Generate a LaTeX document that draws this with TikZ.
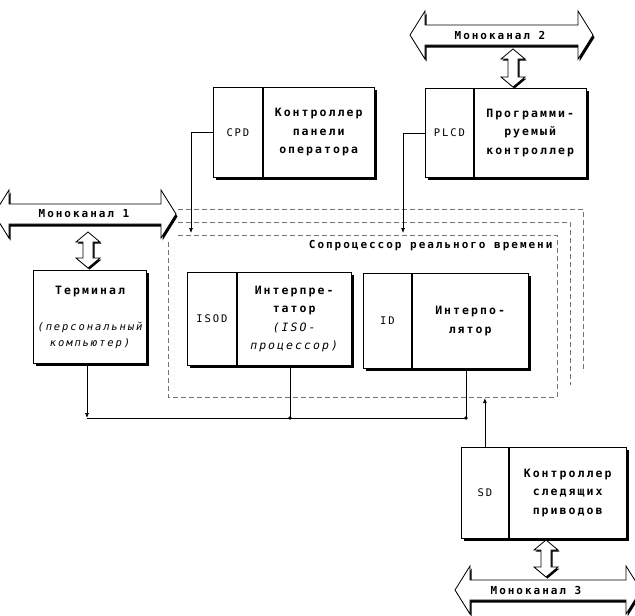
\documentclass[tikz,border=0pt]{standalone}
\usepackage{fontspec}
\setmainfont{DejaVu Sans Mono}[LetterSpace=18]
\usetikzlibrary{arrows.meta,backgrounds}
\newcommand\boxfont{\fontsize{11.5}{18.5}\selectfont\bfseries}
\newcommand\abbrfont{\fontsize{10.5}{14}\selectfont\mdseries}
\newcommand\italfont{\fontsize{10.5}{16}\selectfont\mdseries\itshape}
\newcommand\lblfont{\fontsize{11}{14}\selectfont\bfseries}
% horizontal wide double arrow: left tip x, right tip x, centre y
\newcommand\hbusarrow[3]{%
  \fill[black, shift={(1.5,2.5)}] (#1,#3) -- ++(15,-24) -- ++(0,14) -- (#2-15,#3-10) -- ++(0,-14) -- (#2,#3) -- ++(-15,24) -- ++(0,-14) -- (#1+15,#3+10) -- ++(0,14) -- cycle;
  \filldraw[busfill] (#1,#3) -- ++(15,-24) -- ++(0,14) -- (#2-15,#3-10) -- ++(0,-14) -- (#2,#3) -- ++(-15,24) -- ++(0,-14) -- (#1+15,#3+10) -- ++(0,14) -- cycle;}
% vertical small double arrow: x, top y, bottom y
\newcommand\vbusarrow[3]{%
  \fill[black, shift={(1.5,1.5)}] (#1,#2) -- ++(12,10) -- ++(-7,0) -- (#1+5,#3-10) -- ++(7,0) -- (#1,#3) -- ++(-12,-10) -- ++(7,0) -- (#1-5,#2+10) -- ++(-7,0) -- cycle;
  \filldraw[busfill] (#1,#2) -- ++(12,10) -- ++(-7,0) -- (#1+5,#3-10) -- ++(7,0) -- (#1,#3) -- ++(-12,-10) -- ++(7,0) -- (#1-5,#2+10) -- ++(-7,0) -- cycle;}
\tikzset{
  cell/.style={draw=black, line width=0.8pt, fill=white, inner sep=1pt, anchor=north west, align=center, font=\boxfont},
  abbr/.style={font=\abbrfont},
  conn/.style={draw=black, line width=0.7pt},
  tip/.style={-{Latex[length=5pt,width=4pt]}},
  frameline/.style={draw=black!55, line width=0.7pt, dash pattern=on 5pt off 3pt},
  shade/.style={fill=black},
  busfill/.style={fill=white, draw=black, line width=0.8pt},
  buslabel/.style={font=\lblfont},
}
\begin{document}
\begin{tikzpicture}[x=1pt, y=-1pt]
\useasboundingbox (0,0) rectangle (635,616);
\clip (0,0) rectangle (635,616);

% coprocessor frame (stacked dashed outlines)
\draw[frameline] (178,209) -- (583,209) -- (583,372);
\draw[frameline] (178,222) -- (570,222) -- (570,385);
\draw[frameline] (178,235) -- (557,235) -- (557,397) -- (168,397) -- (168,240);
\node[font=\lblfont, anchor=east] (coproc) at (556,246) {Сопроцессор реального времени};

% boxes
\node[cell, abbr, minimum width=49pt, minimum height=90pt] (cpdA) at (213,87) {CPD};
\node[cell, minimum width=111pt, minimum height=90pt] (cpdB) at (cpdA.north east) {Контроллер\\панели\\оператора};

\node[cell, abbr, minimum width=48pt, minimum height=89pt] (plcdA) at (425,88) {PLCD};
\node[cell, minimum width=112pt, minimum height=89pt] (plcdB) at (plcdA.north east) {Программи-\\руемый\\контроллер};

\node[cell, minimum width=113pt, minimum height=93pt] (term) at (33,270) {};
\node[font=\boxfont] (termT) at (90,292) {Терминал};
\node[font=\italfont, align=center] (termS) at (90,335) {(персональный\\компьютер)};

\node[cell, abbr, minimum width=49pt, minimum height=93pt] (isodA) at (187,272) {ISOD};
\node[cell, minimum width=114pt, minimum height=93pt] (isodB) at (isodA.north east) {Интерпре-\\татор\\{\mdseries\itshape (ISO-}\\{\mdseries\itshape процессор)}};

\node[cell, abbr, minimum width=48pt, minimum height=95pt] (idA) at (363,273) {ID};
\node[cell, minimum width=116pt, minimum height=95pt] (idB) at (idA.north east) {Интерпо-\\лятор};

\node[cell, abbr, minimum width=47pt, minimum height=91pt] (sdA) at (461,447) {SD};
\node[cell, minimum width=117pt, minimum height=91pt] (sdB) at (sdA.north east) {Контроллер\\следящих\\приводов};

% connectors
\coordinate (cpdEnd) at (191,233);
\coordinate (plcdEnd) at (403,233);
\draw[conn, tip] (cpdA.west) -| (cpdEnd);
\draw[conn, tip] (plcdA.west) -| (plcdEnd);

\coordinate (busL) at (87,418);
\coordinate (isoJ) at (290,418);
\coordinate (busR) at (466,418);
\coordinate (sdEnd) at (485,398);
\draw[conn, tip] (busL |- term.south) -- (busL);
\draw[conn] (busL) -- (busR);
\draw[conn] (isoJ |- isodB.south) -- (isoJ);
\draw[conn] (busR |- idB.south) -- (busR);
\fill (isoJ) circle (1.8);
\fill (busR) circle (1.8);
\draw[conn, tip] (sdA.north) -- (sdA.north |- sdEnd);

% monochannels
\hbusarrow{-6}{176}{214}
\node[buslabel] (mono1) at (84,214) {Моноканал 1};
\vbusarrow{88}{232}{268}

\hbusarrow{410}{593}{35}
\node[buslabel] (mono2) at (500,35) {Моноканал 2};
\vbusarrow{513}{49}{87}

\hbusarrow{455}{641}{590}
\node[buslabel] (mono3) at (536,590) {Моноканал 3};
\vbusarrow{546}{540}{577}

% background and box shadows
\begin{scope}[on background layer]
\fill[white] (0,0) rectangle (635,616);
\fill[shade] ([shift={(2.5,2.5)}]cpdA.north west) rectangle ([shift={(2.5,2.5)}]cpdB.south east);
\fill[shade] ([shift={(2.5,2.5)}]plcdA.north west) rectangle ([shift={(2.5,2.5)}]plcdB.south east);
\fill[shade] ([shift={(2.5,2.5)}]term.north west) rectangle ([shift={(2.5,2.5)}]term.south east);
\fill[shade] ([shift={(2.5,2.5)}]isodA.north west) rectangle ([shift={(2.5,2.5)}]isodB.south east);
\fill[shade] ([shift={(2.5,2.5)}]idA.north west) rectangle ([shift={(2.5,2.5)}]idB.south east);
\fill[shade] ([shift={(2.5,2.5)}]sdA.north west) rectangle ([shift={(2.5,2.5)}]sdB.south east);
\end{scope}
\end{tikzpicture}
\end{document}
